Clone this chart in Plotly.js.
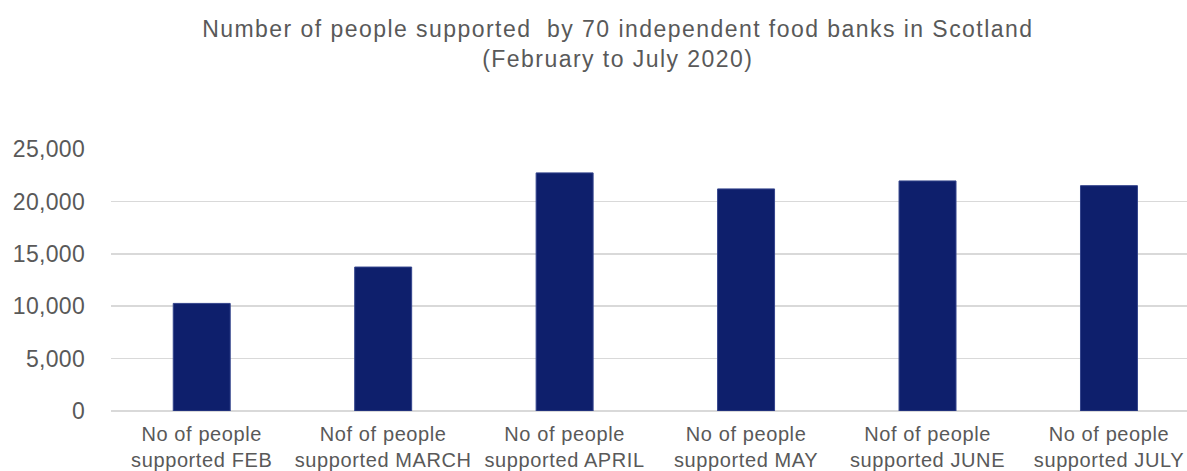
<!DOCTYPE html>
<html>
<head>
<meta charset="utf-8">
<script src="https://cdn.plot.ly/plotly-3.0.1.min.js"></script>
<style>
html,body{margin:0;padding:0;background:#fff;}
#chart{width:1187px;height:471px;}
#chart .gtitle{letter-spacing:1.45px;}
#chart .xtick text{letter-spacing:0.6px;}
#chart .ytick text{letter-spacing:0.3px;}
</style>
</head>
<body>
<div id="chart"></div>
<script>
const categories = [
  "No of people<br>supported FEB",
  "Nof of people<br>supported MARCH",
  "No of people<br>supported APRIL",
  "No of people<br>supported MAY",
  "Nof of people<br>supported JUNE",
  "No of people<br>supported JULY"
];
const peopleSupported = [10270, 13740, 22730, 21200, 21960, 21510];
const yTickValues = [0, 5000, 10000, 15000, 20000, 25000];
const yTickLabels = ["0", "5,000", "10,000", "15,000", "20,000", "25,000"];
const chartTitle = "Number of people supported  by 70 independent food banks in Scotland<br>(February to July 2020)";

const textColor = "#595959";
const font = "Liberation Sans, Arial, sans-serif";

const trace = {
  type: "bar",
  x: categories,
  y: peopleSupported,
  marker: { color: "#0e1f6c", line: { color: "#34448c", width: 1 } },
  hoverinfo: "x+y"
};

const layout = {
  width: 1187,
  height: 471,
  paper_bgcolor: "#ffffff",
  plot_bgcolor: "#ffffff",
  margin: { l: 111, r: 0, t: 149, b: 60, pad: 0 },
  bargap: 0.686,
  showlegend: false,
  title: {
    text: chartTitle,
    font: { family: font, size: 23, color: textColor },
    xref: "container", x: 0.5205, xanchor: "center",
    yref: "container", y: 0.922, yanchor: "top"
  },
  xaxis: {
    type: "category",
    range: [-0.5, 5.43],
    showgrid: false,
    showline: false,
    zeroline: false,
    ticks: "",
    tickangle: 0,
    ticklabelstandoff: 9,
    tickfont: { family: font, size: 20, color: textColor }
  },
  yaxis: {
    range: [0, 25010],
    tickvals: yTickValues,
    ticktext: yTickLabels,
    showgrid: true,
    gridcolor: "#d9d9d9",
    gridwidth: 1.5,
    zeroline: true,
    zerolinecolor: "#d9d9d9",
    zerolinewidth: 2,
    showline: false,
    ticks: "",
    ticklabelstandoff: 25,
    tickfont: { family: font, size: 23, color: textColor }
  }
};

Plotly.newPlot("chart", [trace], layout, { displayModeBar: false, staticPlot: true });
</script>
</body>
</html>
